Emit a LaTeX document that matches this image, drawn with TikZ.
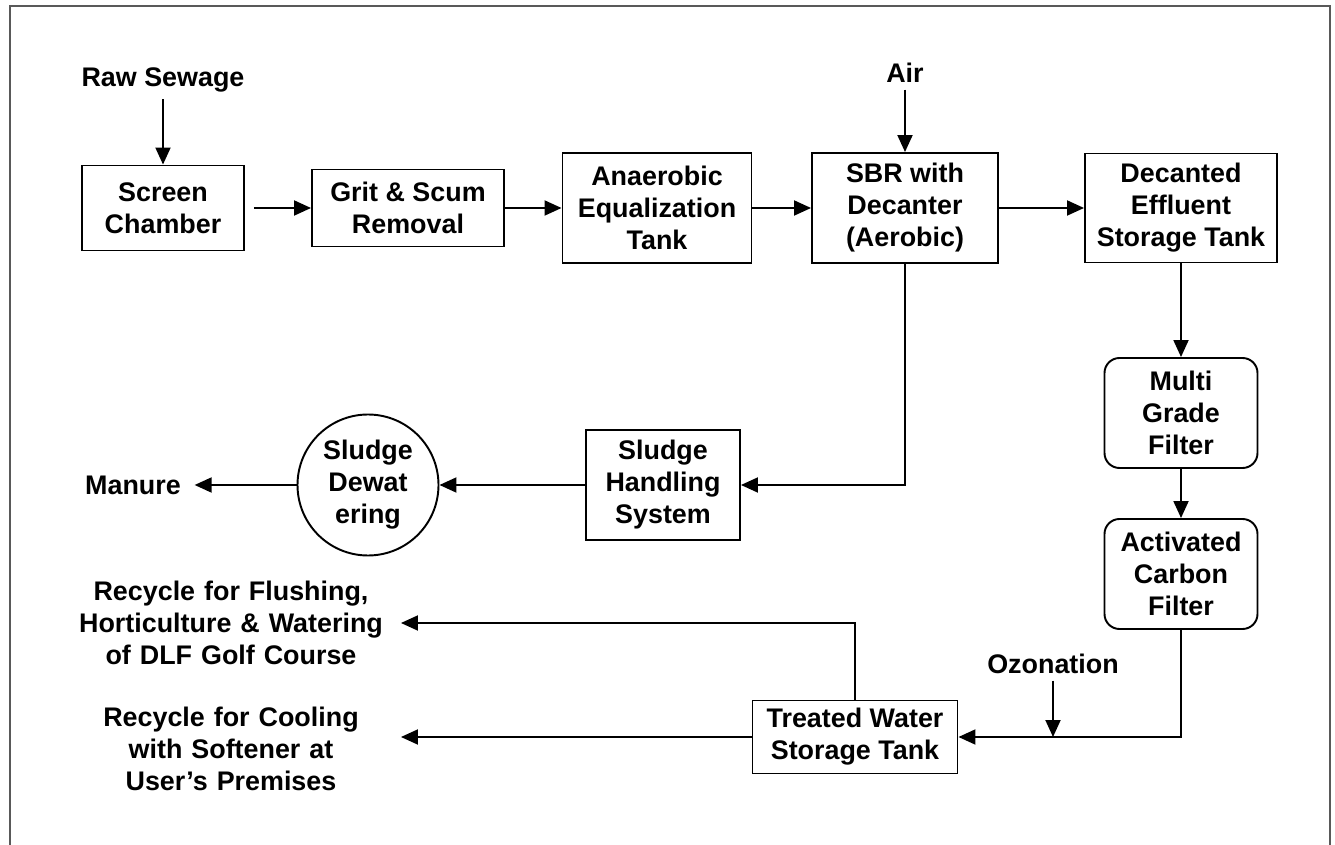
\documentclass[tikz,border=0pt]{standalone}
\usepackage{fontspec}
\setmainfont{Liberation Sans}
\usetikzlibrary{positioning,arrows.meta}

\begin{document}
\begin{tikzpicture}[node distance=5cm,on grid,
	font=\fontsize{15.3}{18.2}\selectfont\bfseries,
	line width=1.1pt,
	>={Triangle[length=0.34cm,width=0.3cm]},
	unit/.style={draw,align=center,inner sep=0pt},
	filter/.style={unit,rounded corners=0.3cm,minimum width=3.06cm,minimum height=2.2cm},
	label/.style={align=center},
	target/.style={align=center,text width=6.76cm,inner xsep=0pt}]
	\useasboundingbox (0,0) rectangle (26.7,-16.9);
	\draw[line width=1.6pt,gray!70!black] (0.2,-16.9) -- (0.2,-0.12) -- (26.6,-0.12) -- (26.6,-16.9);
	\node[unit,minimum width=3.24cm,minimum height=1.7cm] (screen) at (3.26,-4.16) {Screen\\Chamber};
	\node[unit,minimum width=3.84cm,minimum height=1.54cm] (grit) [right=4.9cm of screen] {Grit \& Scum\\Removal};
	\node[unit,minimum width=3.78cm,minimum height=2.2cm] (tank) [right=4.98cm of grit] {Anaerobic\\Equalization\\Tank};
	\node[unit,minimum width=3.72cm,minimum height=2.2cm] (sbr) [right=4.96cm of tank] {SBR with\\Decanter\\(Aerobic)};
	\node[unit,minimum width=3.84cm,minimum height=2.18cm] (decant) [right=5.52cm of sbr] {Decanted\\Effluent\\Storage Tank};
	\node[filter] (mgf) [below=4.1cm of decant] {Multi\\Grade\\Filter};
	\node[filter] (acf) [below=3.22cm of mgf] {Activated\\Carbon\\Filter};
	\node[label] (raw) [above=2.56cm of screen] {Raw Sewage};
	\node[label] (air) [above=2.7cm of sbr] {Air};
	\node[unit,minimum width=3.08cm,minimum height=2.2cm] (handling) [below right=5.54cm and 0.12cm of tank] {Sludge\\Handling\\System};
	\node[draw,circle,align=center,inner sep=0pt,minimum size=2.82cm] (dewater) [left=5.9cm of handling] {Sludge\\Dewat\\ering};
	\node[label] (manure) [left=4.7cm of dewater] {Manure};
	\node[unit,minimum width=4.1cm,minimum height=1.46cm] (treated) [below left=10.58cm and 1.0cm of sbr] {Treated Water\\Storage Tank};
	\node[label] (ozone) [above right=1.46cm and 3.96cm of treated] {Ozonation};
	\node[target] (flush) [above left=2.28cm and 12.48cm of treated] {Recycle for Flushing,\\Horticulture \& Watering\\of DLF Golf Course};
	\node[target] (cool) [below left=0.24cm and 12.48cm of treated] {Recycle for Cooling\\with Softener at\\User's Premises};
\path[->]
	(raw) edge (screen)
	(screen) edge [shorten <=0.18cm] (grit)
	(grit) edge (tank)
	(tank) edge (sbr)
	(sbr) edge (decant)
	(air) edge (sbr)
	(decant) edge (mgf)
	(mgf) edge (acf)
	(handling) edge (dewater)
	(dewater) edge [shorten >=0.14cm] (manure);
\draw[->] (sbr.south) |- (handling.east);
\draw[->] (acf.south) |- (treated.east);
\draw[->] (ozone.south) -- (ozone.south |- treated.east);
\draw[->] (treated.north) |- (flush.east);
\draw[->] (treated.west) -- (treated.west -| cool.east);
\end{tikzpicture}
\end{document}
